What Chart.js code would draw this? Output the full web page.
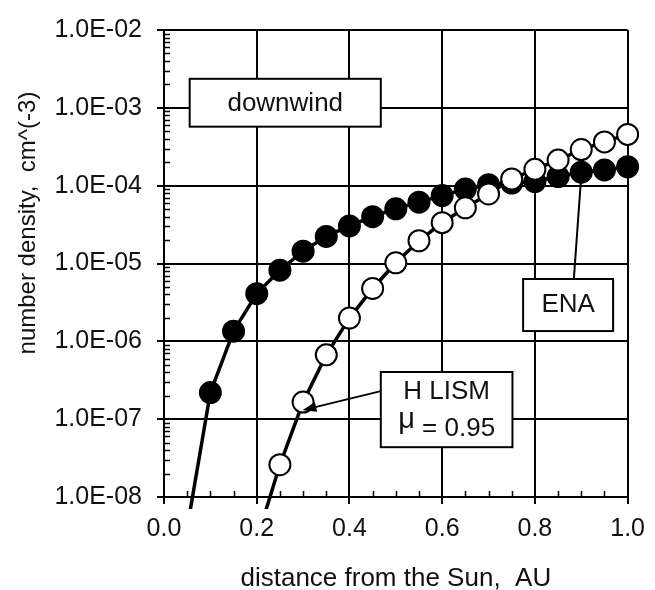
<!DOCTYPE html>
<html>
<head>
<meta charset="utf-8">
<script src="https://cdn.jsdelivr.net/npm/chart.js@4.4.1/dist/chart.umd.min.js"></script>
<style>
  html, body { margin: 0; padding: 0; background: #fff; }
  #wrap { position: relative; width: 655px; height: 590px; }
</style>
</head>
<body>
<div id="wrap"><canvas id="densityChart" width="655" height="590"></canvas></div>
<script>
// Distance from the Sun (AU) and number density (cm^-3).
// The first entry of each series is only the tail of the curve below 1e-8 (no marker).
const enaDist = [0.05, 0.10, 0.15, 0.20, 0.25, 0.30, 0.35, 0.40, 0.45, 0.50,
                 0.55, 0.60, 0.65, 0.70, 0.75, 0.80, 0.85, 0.90, 0.95, 1.00];
const enaDens = [4.0e-9, 2.2e-7, 1.35e-6, 4.1e-6, 8.2e-6, 1.44e-5, 2.23e-5, 3.04e-5, 4.0e-5, 5.05e-5,
                 6.14e-5, 7.45e-5, 9.05e-5, 1.03e-4, 1.08e-4, 1.13e-4, 1.31e-4, 1.49e-4, 1.59e-4, 1.75e-4];

const lismDist = [0.20, 0.25, 0.30, 0.35, 0.40, 0.45, 0.50, 0.55, 0.60,
                  0.65, 0.70, 0.75, 0.80, 0.85, 0.90, 0.95, 1.00];
const lismDens = [2.8e-9, 2.6e-8, 1.66e-7, 6.7e-7, 1.99e-6, 4.78e-6, 1.02e-5, 1.96e-5, 3.35e-5,
                  5.2e-5, 7.82e-5, 1.22e-4, 1.62e-4, 2.13e-4, 2.91e-4, 3.65e-4, 4.56e-4];

const xTicks = [0, 0.2, 0.4, 0.6, 0.8, 1.0];
const xTickLabels = ['0.0', '0.2', '0.4', '0.6', '0.8', '1.0'];
const yTicks = [1e-8, 1e-7, 1e-6, 1e-5, 1e-4, 1e-3, 1e-2];
const yTickLabels = ['1.0E-08', '1.0E-07', '1.0E-06', '1.0E-05', '1.0E-04', '1.0E-03', '1.0E-02'];

const xTitle = 'distance from the Sun,  AU';
const yTitle = 'number density,  cm^(-3)';

const FONT = '"Liberation Sans", Arial, sans-serif';
const INK = '#111';

function toPoints(xs, ys) {
    return xs.map((x, i) => ({ x: x, y: ys[i] }));
}

// minor ticks on the inside of the axes + axis titles
const axisExtras = {
    id: 'axisExtras',
    afterDraw(chart) {
        const { ctx, chartArea, scales } = chart;
        const x = scales.x, y = scales.y;
        ctx.save();
        ctx.strokeStyle = '#000';
        ctx.lineWidth = 1.5;
        ctx.beginPath();
        for (let e = -8; e < -2; e++) {
            for (let k = 2; k <= 9; k++) {
                const py = Math.round(y.getPixelForValue(k * Math.pow(10, e))) + 0.5;
                ctx.moveTo(chartArea.left, py);
                ctx.lineTo(chartArea.left + 6, py);
            }
        }
        for (let i = 1; i < 20; i++) {
            if (i % 4 === 0) continue;
            const px = Math.round(x.getPixelForValue(i * 0.05)) + 0.5;
            ctx.moveTo(px, chartArea.bottom);
            ctx.lineTo(px, chartArea.bottom - 6);
        }
        ctx.stroke();

        ctx.fillStyle = INK;
        ctx.font = '26px ' + FONT;
        ctx.textAlign = 'center';
        ctx.textBaseline = 'alphabetic';
        ctx.fillText(xTitle, (chartArea.left + chartArea.right) / 2, 586);

        ctx.font = '24px ' + FONT;
        ctx.translate(35, 223);
        ctx.rotate(-Math.PI / 2);
        ctx.fillText(yTitle, 0, 0);
        ctx.restore();
    }
};

// text boxes and leader lines
const notes = {
    id: 'notes',
    afterDatasetsDraw(chart) {
        const { ctx, scales } = chart;
        const px = v => scales.x.getPixelForValue(v);
        const py = e => scales.y.getPixelForValue(Math.pow(10, e));

        function box(x0, x1, e0, e1) {
            const l = px(x0), r = px(x1), t = py(e0), b = py(e1);
            ctx.fillStyle = '#fff';
            ctx.fillRect(l, t, r - l, b - t);
            ctx.strokeStyle = '#000';
            ctx.lineWidth = 2;
            ctx.strokeRect(l, t, r - l, b - t);
            return { l, r, t, b, cx: (l + r) / 2, cy: (t + b) / 2 };
        }

        ctx.save();
        // ENA leader line, then its box
        ctx.strokeStyle = '#000';
        ctx.lineWidth = 2;
        ctx.beginPath();
        ctx.moveTo(px(0.884), py(-5.199));
        ctx.lineTo(px(0.9), scales.y.getPixelForValue(enaDens[17]) + 3);
        ctx.stroke();

        // H LISM arrow
        const ax0 = px(0.4676), ay0 = py(-6.640);
        const ax1 = px(0.2985), ay1 = py(-6.885);
        const ang = Math.atan2(ay1 - ay0, ax1 - ax0);
        ctx.beginPath();
        ctx.moveTo(ax0, ay0);
        ctx.lineTo(ax1 - 10 * Math.cos(ang), ay1 - 10 * Math.sin(ang));
        ctx.stroke();
        ctx.fillStyle = '#000';
        ctx.beginPath();
        ctx.moveTo(ax1, ay1);
        ctx.lineTo(ax1 - 14 * Math.cos(ang) + 5 * Math.sin(ang), ay1 - 14 * Math.sin(ang) - 5 * Math.cos(ang));
        ctx.lineTo(ax1 - 14 * Math.cos(ang) - 5 * Math.sin(ang), ay1 - 14 * Math.sin(ang) + 5 * Math.cos(ang));
        ctx.closePath();
        ctx.fill();

        ctx.textAlign = 'center';
        ctx.textBaseline = 'middle';

        const dw = box(0.0554, 0.4676, -2.627, -3.242);
        ctx.fillStyle = INK;
        ctx.font = '26px ' + FONT;
        ctx.fillText('downwind', dw.cx, dw.cy + 1);

        const en = box(0.7746, 0.9687, -5.199, -5.868);
        ctx.fillStyle = INK;
        ctx.fillText('ENA', en.cx, en.cy);

        const hl = box(0.4676, 0.7516, -6.394, -7.360);
        ctx.fillStyle = INK;
        ctx.fillText('H LISM', hl.cx, hl.t + 20);

        ctx.textAlign = 'left';
        ctx.textBaseline = 'alphabetic';
        const rest = ' = 0.95';
        ctx.font = '29px ' + FONT;
        const mw = ctx.measureText('\u03bc').width;
        ctx.font = '26px ' + FONT;
        const rw = ctx.measureText(rest).width;
        const sx = hl.cx - (mw + rw) / 2;
        ctx.fillText(rest, sx + mw, hl.t + 64);
        ctx.font = '29px ' + FONT;
        ctx.fillText('\u03bc', sx, hl.t + 56);
        ctx.restore();
    }
};

const tickFont = { family: FONT, size: 25 };

new Chart(document.getElementById('densityChart'), {
    type: 'line',
    data: {
        datasets: [
            {
                label: 'H LISM',
                data: toPoints(lismDist, lismDens),
                borderColor: '#000',
                borderWidth: 3.5,
                backgroundColor: '#fff',
                pointBackgroundColor: '#fff',
                pointBorderColor: '#000',
                pointBorderWidth: 2,
                pointRadius: ctx => ctx.dataIndex === 0 ? 0 : 10.5,
                tension: 0,
                order: 0,
                clip: { left: 15, top: 15, right: 15, bottom: 12 }
            },
            {
                label: 'ENA',
                data: toPoints(enaDist, enaDens),
                borderColor: '#000',
                borderWidth: 3.5,
                backgroundColor: '#000',
                pointBackgroundColor: '#000',
                pointBorderColor: '#000',
                pointBorderWidth: 2,
                pointRadius: ctx => ctx.dataIndex === 0 ? 0 : 10.5,
                tension: 0,
                order: 1,
                clip: { left: 15, top: 15, right: 15, bottom: 12 }
            }
        ]
    },
    options: {
        responsive: false,
        animation: false,
        events: [],
        layout: { padding: { left: 0, top: 25, right: 22, bottom: 0 } },
        plugins: { legend: { display: false }, tooltip: { enabled: false } },
        scales: {
            x: {
                type: 'linear',
                min: 0,
                max: 1,
                afterBuildTicks: s => { s.ticks = xTicks.map(v => ({ value: v })); },
                afterFit: s => { s.height = 93; },
                ticks: {
                    callback: (v, i) => xTickLabels[i],
                    font: tickFont,
                    color: INK,
                    padding: 10,
                    maxRotation: 0,
                    autoSkip: false
                },
                grid: { color: '#000', lineWidth: 2, tickLength: 7 },
                border: { color: '#000', width: 2 }
            },
            y: {
                type: 'logarithmic',
                min: 1e-8,
                max: 1e-2,
                afterBuildTicks: s => { s.ticks = yTicks.map(v => ({ value: v })); },
                afterFit: s => { s.width = 164; },
                ticks: {
                    callback: (v, i) => yTickLabels[i],
                    font: tickFont,
                    color: INK,
                    padding: 15,
                    autoSkip: false
                },
                grid: { color: '#000', lineWidth: 2, tickLength: 7 },
                border: { color: '#000', width: 2 }
            }
        }
    },
    plugins: [axisExtras, notes]
});
</script>
</body>
</html>
